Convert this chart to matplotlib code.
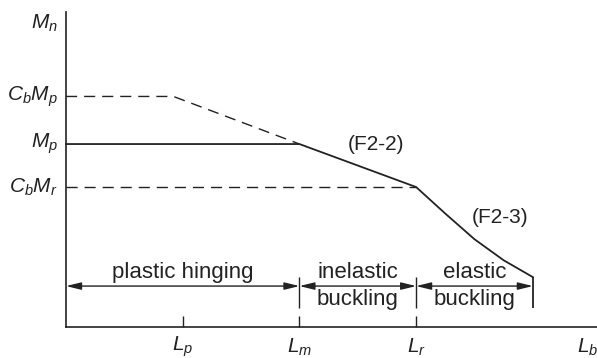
import matplotlib
matplotlib.use('Agg')
import matplotlib.pyplot as plt

plt.rcParams['font.family'] = ['Liberation Sans', 'DejaVu Sans']
plt.rcParams['mathtext.fontset'] = 'custom'
plt.rcParams['mathtext.it'] = 'Liberation Sans:italic'
plt.rcParams['mathtext.rm'] = 'Liberation Sans'

# levels (moment) and lengths, in chart units
Mp = 1.0
CbMp = 1.26
CbMr = 0.765
Lp, Lm, Lr, Lend = 1.0, 2.0, 3.0, 4.0

# nominal strength curve
curve_x = [0, Lm, Lr, 3.25, 3.5, 3.75, Lend]
curve_y = [Mp, Mp, CbMr, 0.62, 0.48, 0.365, 0.273]

# dashed references
cbmp_x = [0, 0.92, Lm]
cbmp_y = [CbMp, CbMp, Mp]
cbmr_x = [0, Lr]
cbmr_y = [CbMr, CbMr]

y_labels = [r'$M_n$', r'$C_bM_p$', r'$M_p$', r'$C_bM_r$']
y_label_pos = [1.66, CbMp, Mp, CbMr]
x_labels = [r'$L_p$', r'$L_m$', r'$L_r$', r'$L_b$']
x_label_pos = [Lp, Lm, Lr, 4.47]

zones = [(0, Lm, 'plastic hinging'), (Lm, Lr, 'inelastic\nbuckling'), (Lr, Lend, 'elastic\nbuckling')]

col = '#222222'
fs = 15
fig = plt.figure(figsize=(5.97, 3.58), dpi=100)
ax = fig.add_axes([0, 0, 1, 1])
ax.set_xlim(-0.566, 4.55)
ax.set_ylim(-0.169, 1.787)
ax.set_xticks([])
ax.set_yticks([])
for s in ['top', 'right']:
    ax.spines[s].set_visible(False)
ax.spines['left'].set_position(('data', 0))
ax.spines['bottom'].set_position(('data', 0))
ax.spines['left'].set_bounds(0, 1.72)
ax.spines['bottom'].set_bounds(0, 4.55)
ax.spines['left'].set_color(col)
ax.spines['bottom'].set_color(col)
ax.spines['left'].set_linewidth(1.2)
ax.spines['bottom'].set_linewidth(1.2)

ax.plot(curve_x, curve_y, color=col, lw=1.3)
ax.plot(cbmp_x, cbmp_y, color=col, lw=1.0, dashes=(8, 5))
ax.plot(cbmr_x, cbmr_y, color=col, lw=1.0, dashes=(8, 5))

# ticks on the length axis and zone separators
ax.vlines([Lp, Lm, Lr], 0, 0.06, color=col, lw=1.0)
ax.vlines([Lm, Lr], 0.104, 0.273, color=col, lw=1.0)
ax.vlines([Lend], 0.104, 0.273, color=col, lw=1.3)

for x0, x1, txt in zones:
    ax.annotate('', xy=(x1, 0.224), xytext=(x0, 0.224),
                arrowprops=dict(arrowstyle='<|-|>,head_length=0.9,head_width=0.22',
                                color=col, lw=1.0, shrinkA=0, shrinkB=0))
    if '\n' in txt:
        a, b = txt.split('\n')
        ax.text((x0 + x1) / 2, 0.297, a, ha='center', va='center', fontsize=fs + 1, color=col)
        ax.text((x0 + x1) / 2, 0.150, b, ha='center', va='center', fontsize=fs + 1, color=col)
    else:
        ax.text((x0 + x1) / 2, 0.297, txt, ha='center', va='center', fontsize=fs + 1, color=col)

for lab, y in zip(y_labels, y_label_pos):
    ax.text(-0.07, y, lab, ha='right', va='center', fontsize=fs, color=col)
for lab, x in zip(x_labels, x_label_pos):
    ax.text(x, -0.11, lab, ha='center', va='center', fontsize=fs, color=col)

ax.text(2.66, 0.995, '(F2-2)', ha='center', va='center', fontsize=fs, color=col)
ax.text(3.72, 0.60, '(F2-3)', ha='center', va='center', fontsize=fs, color=col)

fig.savefig('out.png', dpi=100)
